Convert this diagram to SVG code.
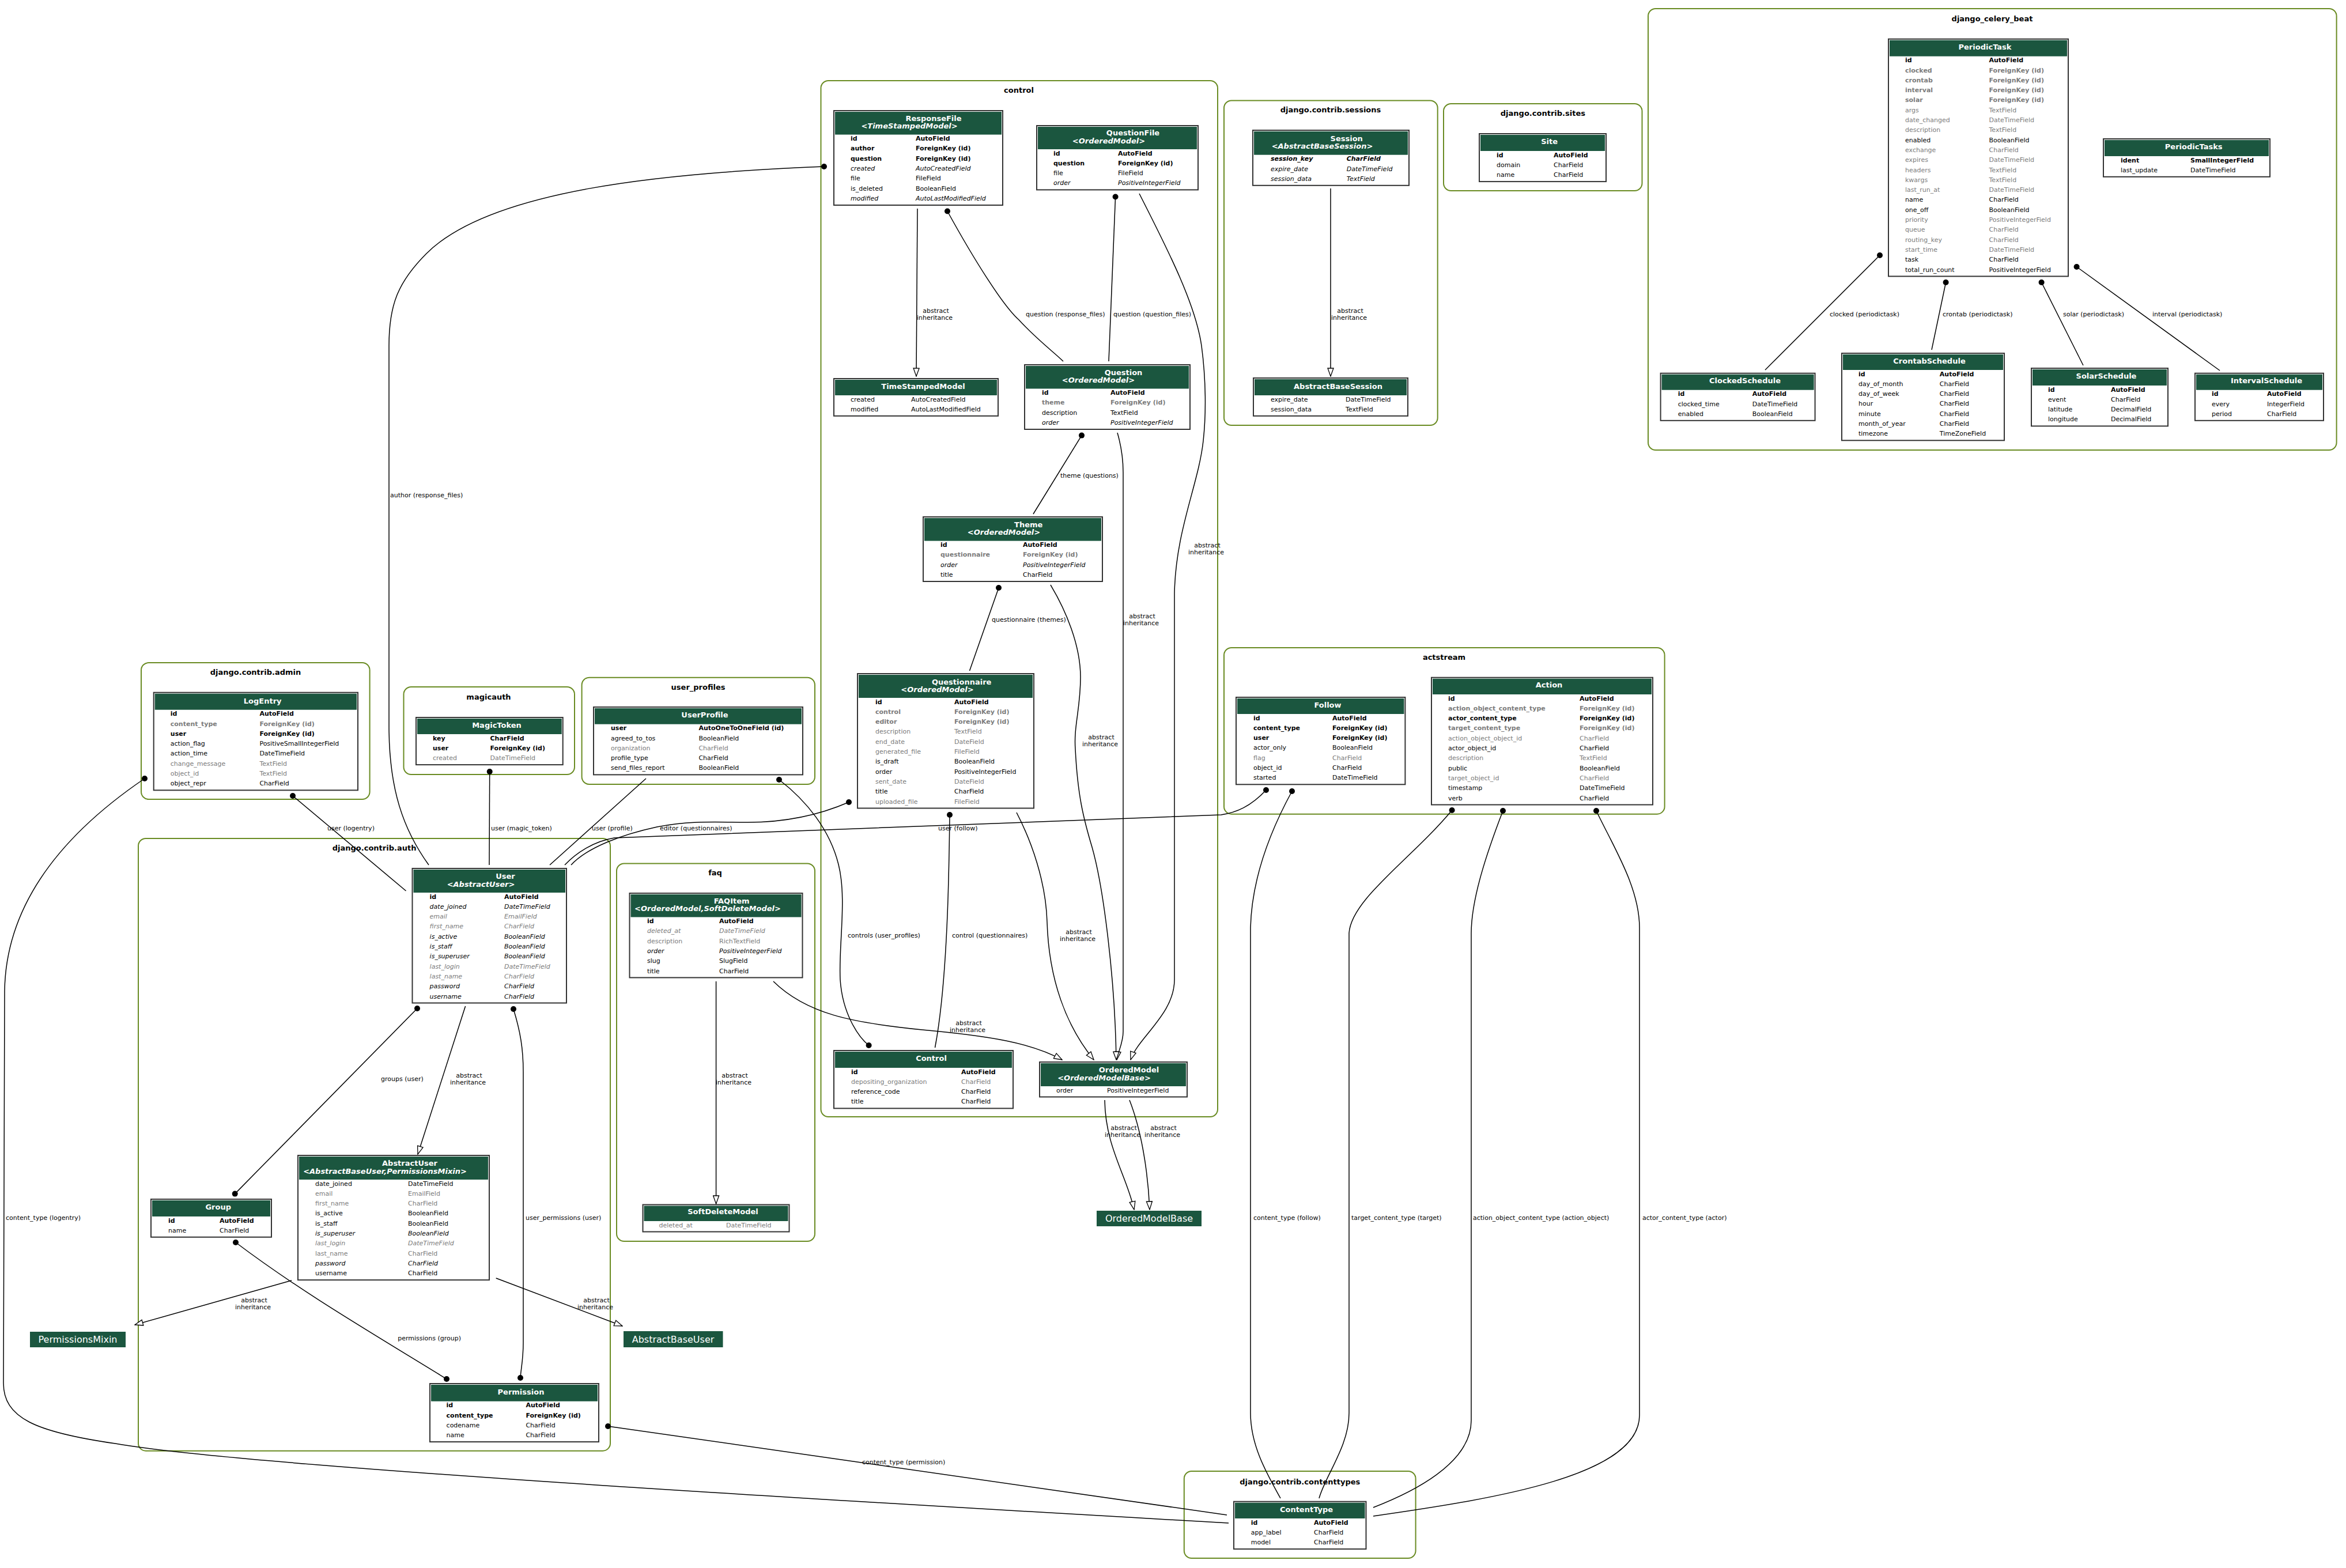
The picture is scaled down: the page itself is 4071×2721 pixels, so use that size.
<svg xmlns="http://www.w3.org/2000/svg" width="4071" height="2721" viewBox="0 0 4071 2721">
<style>
text { font-family: "DejaVu Sans", "Liberation Sans", sans-serif; }
.box { fill: #fff; stroke: #333; stroke-width: 2; }
.hd { fill: #1b563f; }
.tt { font-size: 13px; font-weight: bold; fill: #fff; text-anchor: middle; }
.i { font-style: italic; }
.b { font-weight: bold; }
.g { fill: #7b7b7b; }
.f { font-size: 11px; fill: #000; }
.f.g { fill: #7b7b7b; }
.cl { fill: none; stroke: #698b22; stroke-width: 2; }
.ct { font-size: 13px; font-weight: bold; fill: #000; text-anchor: middle; }
.e { fill: none; stroke: #000; stroke-width: 1.5; }
.inh { marker-end: url(#tri); }
.fk { marker-start: url(#dot); }
.m2m { marker-start: url(#dot); marker-end: url(#dot); }
.el { font-size: 11px; fill: #000; }
.ab { font-size: 11px; fill: #000; text-anchor: middle; }
.pb { fill: #1b563f; }
.pt { font-size: 16px; fill: #fff; text-anchor: middle; }
</style>
<defs>
<marker id="dot" markerUnits="userSpaceOnUse" viewBox="0 0 12 12" markerWidth="12" markerHeight="12" refX="6" refY="6">
<circle cx="6" cy="6" r="5" fill="#000"/>
</marker>
<marker id="tri" markerUnits="userSpaceOnUse" viewBox="0 0 16 12" markerWidth="16" markerHeight="12" refX="15" refY="6" orient="auto">
<path d="M1,1 L15,6 L1,11 z" fill="#fff" stroke="#000" stroke-width="1.3"/>
</marker>
</defs>
<rect width="4071" height="2721" fill="#fff"/>

<!-- application clusters -->
<g id="clusters">
<rect class="cl" x="1424.5" y="140" width="688.5" height="1798" rx="13"/>
<text class="ct" x="1768" y="161">control</text>
<rect class="cl" x="2124" y="174.5" width="370.7" height="563.5" rx="13"/>
<text class="ct" x="2309" y="194.5">django.contrib.sessions</text>
<rect class="cl" x="2505" y="180" width="344.5" height="151" rx="13"/>
<text class="ct" x="2677.4" y="200.5">django.contrib.sites</text>
<rect class="cl" x="2860" y="15" width="1194.6" height="766" rx="13"/>
<text class="ct" x="3457" y="37.2">django_celery_beat</text>
<rect class="cl" x="2124" y="1124" width="764.6" height="288.7" rx="13"/>
<text class="ct" x="2506" y="1145.2">actstream</text>
<rect class="cl" x="245" y="1150" width="396.6" height="237" rx="13"/>
<text class="ct" x="443.5" y="1171.2">django.contrib.admin</text>
<rect class="cl" x="700.5" y="1192" width="296.5" height="152" rx="13"/>
<text class="ct" x="848" y="1213.5">magicauth</text>
<rect class="cl" x="1009.6" y="1175.7" width="404.4" height="185.3" rx="13"/>
<text class="ct" x="1211.6" y="1197.2">user_profiles</text>
<rect class="cl" x="240" y="1455" width="819" height="1062.7" rx="13"/>
<text class="ct" x="649.6" y="1476.1">django.contrib.auth</text>
<rect class="cl" x="1070" y="1498.5" width="344" height="655.5" rx="13"/>
<text class="ct" x="1241" y="1519.2">faq</text>
<rect class="cl" x="2054.8" y="2553" width="401.8" height="151" rx="13"/>
<text class="ct" x="2255.7" y="2575.5">django.contrib.contenttypes</text>
</g>

<!-- control -->
<g id="ResponseFile">
<rect class="box" x="1447" y="192" width="293" height="164"/>
<rect class="hd" x="1449" y="194" width="289" height="39.6"/>
<text class="tt"><tspan x="1620" y="209.5">ResponseFile</tspan><tspan class="i" x="1578" y="222.5">&lt;TimeStampedModel&gt;</tspan></text>
<text class="f b" y="244.1"><tspan x="1476">id</tspan><tspan x="1589">AutoField</tspan></text>
<text class="f b" y="261.4"><tspan x="1476">author</tspan><tspan x="1589">ForeignKey (id)</tspan></text>
<text class="f b" y="278.7"><tspan x="1476">question</tspan><tspan x="1589">ForeignKey (id)</tspan></text>
<text class="f i" y="296"><tspan x="1476">created</tspan><tspan x="1589">AutoCreatedField</tspan></text>
<text class="f" y="313.3"><tspan x="1476">file</tspan><tspan x="1589">FileField</tspan></text>
<text class="f" y="330.6"><tspan x="1476">is_deleted</tspan><tspan x="1589">BooleanField</tspan></text>
<text class="f i" y="347.9"><tspan x="1476">modified</tspan><tspan x="1589">AutoLastModifiedField</tspan></text>
</g>
<g id="QuestionFile">
<rect class="box" x="1799" y="218" width="280" height="111.4"/>
<rect class="hd" x="1801" y="220" width="276" height="39"/>
<text class="tt"><tspan x="1966" y="234.9">QuestionFile</tspan><tspan class="i" x="1924" y="248.5">&lt;OrderedModel&gt;</tspan></text>
<text class="f b" y="269.5"><tspan x="1828">id</tspan><tspan x="1940">AutoField</tspan></text>
<text class="f b" y="286.8"><tspan x="1828">question</tspan><tspan x="1940">ForeignKey (id)</tspan></text>
<text class="f" y="304.1"><tspan x="1828">file</tspan><tspan x="1940">FileField</tspan></text>
<text class="f i" y="321.4"><tspan x="1828">order</tspan><tspan x="1940">PositiveIntegerField</tspan></text>
</g>
<g id="TimeStampedModel">
<rect class="box" x="1447" y="657" width="285" height="64.8"/>
<rect class="hd" x="1449" y="659" width="281" height="27"/>
<text class="tt" x="1602" y="675">TimeStampedModel</text>
<text class="f" y="696.5"><tspan x="1476">created</tspan><tspan x="1581">AutoCreatedField</tspan></text>
<text class="f" y="713.8"><tspan x="1476">modified</tspan><tspan x="1581">AutoLastModifiedField</tspan></text>
</g>
<g id="Question">
<rect class="box" x="1778" y="633" width="287" height="112"/>
<rect class="hd" x="1780" y="635" width="283" height="39.5"/>
<text class="tt"><tspan x="1949.5" y="650.5">Question</tspan><tspan class="i" x="1906" y="663.5">&lt;OrderedModel&gt;</tspan></text>
<text class="f b" y="685"><tspan x="1808">id</tspan><tspan x="1927">AutoField</tspan></text>
<text class="f b g" y="702.3"><tspan x="1808">theme</tspan><tspan x="1927">ForeignKey (id)</tspan></text>
<text class="f" y="719.6"><tspan x="1808">description</tspan><tspan x="1927">TextField</tspan></text>
<text class="f i" y="736.9"><tspan x="1808">order</tspan><tspan x="1927">PositiveIntegerField</tspan></text>
</g>
<g id="Theme">
<rect class="box" x="1602" y="897" width="311" height="112"/>
<rect class="hd" x="1604" y="899" width="307" height="39.6"/>
<text class="tt"><tspan x="1784.7" y="914.9">Theme</tspan><tspan class="i" x="1742" y="927.9">&lt;OrderedModel&gt;</tspan></text>
<text class="f b" y="949.1"><tspan x="1632">id</tspan><tspan x="1775">AutoField</tspan></text>
<text class="f b g" y="966.4"><tspan x="1632">questionnaire</tspan><tspan x="1775">ForeignKey (id)</tspan></text>
<text class="f i" y="983.7"><tspan x="1632">order</tspan><tspan x="1775">PositiveIntegerField</tspan></text>
<text class="f" y="1001"><tspan x="1632">title</tspan><tspan x="1775">CharField</tspan></text>
</g>
<g id="Questionnaire">
<rect class="box" x="1488" y="1169" width="306" height="233.5"/>
<rect class="hd" x="1490" y="1171" width="302" height="40"/>
<text class="tt"><tspan x="1668.7" y="1187.5">Questionnaire</tspan><tspan class="i" x="1626.5" y="1200.5">&lt;OrderedModel&gt;</tspan></text>
<text class="f b" y="1221.5"><tspan x="1519">id</tspan><tspan x="1656">AutoField</tspan></text>
<text class="f b g" y="1238.8"><tspan x="1519">control</tspan><tspan x="1656">ForeignKey (id)</tspan></text>
<text class="f b g" y="1256.1"><tspan x="1519">editor</tspan><tspan x="1656">ForeignKey (id)</tspan></text>
<text class="f g" y="1273.4"><tspan x="1519">description</tspan><tspan x="1656">TextField</tspan></text>
<text class="f g" y="1290.7"><tspan x="1519">end_date</tspan><tspan x="1656">DateField</tspan></text>
<text class="f g" y="1308"><tspan x="1519">generated_file</tspan><tspan x="1656">FileField</tspan></text>
<text class="f" y="1325.3"><tspan x="1519">is_draft</tspan><tspan x="1656">BooleanField</tspan></text>
<text class="f" y="1342.6"><tspan x="1519">order</tspan><tspan x="1656">PositiveIntegerField</tspan></text>
<text class="f g" y="1359.9"><tspan x="1519">sent_date</tspan><tspan x="1656">DateField</tspan></text>
<text class="f" y="1377.2"><tspan x="1519">title</tspan><tspan x="1656">CharField</tspan></text>
<text class="f g" y="1394.5"><tspan x="1519">uploaded_file</tspan><tspan x="1656">FileField</tspan></text>
</g>
<g id="Control">
<rect class="box" x="1447" y="1823" width="311" height="100.4"/>
<rect class="hd" x="1449" y="1825" width="307" height="28"/>
<text class="tt" x="1616" y="1841.2">Control</text>
<text class="f b" y="1863.5"><tspan x="1477">id</tspan><tspan x="1668">AutoField</tspan></text>
<text class="f g" y="1880.8"><tspan x="1477">depositing_organization</tspan><tspan x="1668">CharField</tspan></text>
<text class="f" y="1898.1"><tspan x="1477">reference_code</tspan><tspan x="1668">CharField</tspan></text>
<text class="f" y="1915.4"><tspan x="1477">title</tspan><tspan x="1668">CharField</tspan></text>
</g>
<g id="OrderedModel">
<rect class="box" x="1804" y="1843" width="256" height="60.5"/>
<rect class="hd" x="1806" y="1845" width="252" height="40"/>
<text class="tt"><tspan x="1959" y="1861.1">OrderedModel</tspan><tspan class="i" x="1916" y="1874.5">&lt;OrderedModelBase&gt;</tspan></text>
<text class="f" y="1895.5"><tspan x="1833">order</tspan><tspan x="1921">PositiveIntegerField</tspan></text>
</g>
<g id="OrderedModelBase">
<rect class="pb" x="1903" y="2101" width="182" height="27"/>
<text class="pt" x="1994" y="2120">OrderedModelBase</text>
</g>

<!-- faq -->
<g id="FAQItem">
<rect class="box" x="1092.5" y="1550" width="300" height="146.5"/>
<rect class="hd" x="1094.5" y="1552" width="296" height="39.5"/>
<text class="tt"><tspan x="1269.6" y="1568.1">FAQItem</tspan><tspan class="i" x="1228" y="1581.2">&lt;OrderedModel,SoftDeleteModel&gt;</tspan></text>
<text class="f b" y="1602"><tspan x="1123">id</tspan><tspan x="1248">AutoField</tspan></text>
<text class="f g i" y="1619.3"><tspan x="1123">deleted_at</tspan><tspan x="1248">DateTimeField</tspan></text>
<text class="f g" y="1636.6"><tspan x="1123">description</tspan><tspan x="1248">RichTextField</tspan></text>
<text class="f i" y="1653.9"><tspan x="1123">order</tspan><tspan x="1248">PositiveIntegerField</tspan></text>
<text class="f" y="1671.2"><tspan x="1123">slug</tspan><tspan x="1248">SlugField</tspan></text>
<text class="f" y="1688.5"><tspan x="1123">title</tspan><tspan x="1248">CharField</tspan></text>
</g>
<g id="SoftDeleteModel">
<rect class="box" x="1115.5" y="2090.5" width="254" height="47"/>
<rect class="hd" x="1117.5" y="2092.5" width="250" height="26.5"/>
<text class="tt" x="1254.5" y="2107">SoftDeleteModel</text>
<text class="f g" y="2129.5"><tspan x="1143.5">deleted_at</tspan><tspan x="1260">DateTimeField</tspan></text>
</g>

<!-- django.contrib.auth -->
<g id="User">
<rect class="box" x="715.5" y="1507" width="267.5" height="233.5"/>
<rect class="hd" x="717.5" y="1509" width="263.5" height="40"/>
<text class="tt"><tspan x="877" y="1525.1">User</tspan><tspan class="i" x="834.5" y="1538.5">&lt;AbstractUser&gt;</tspan></text>
<text class="f b" y="1559.5"><tspan x="745.6">id</tspan><tspan x="875">AutoField</tspan></text>
<text class="f i" y="1576.8"><tspan x="745.6">date_joined</tspan><tspan x="875">DateTimeField</tspan></text>
<text class="f g i" y="1594.1"><tspan x="745.6">email</tspan><tspan x="875">EmailField</tspan></text>
<text class="f g i" y="1611.4"><tspan x="745.6">first_name</tspan><tspan x="875">CharField</tspan></text>
<text class="f i" y="1628.7"><tspan x="745.6">is_active</tspan><tspan x="875">BooleanField</tspan></text>
<text class="f i" y="1646"><tspan x="745.6">is_staff</tspan><tspan x="875">BooleanField</tspan></text>
<text class="f i" y="1663.3"><tspan x="745.6">is_superuser</tspan><tspan x="875">BooleanField</tspan></text>
<text class="f g i" y="1680.6"><tspan x="745.6">last_login</tspan><tspan x="875">DateTimeField</tspan></text>
<text class="f g i" y="1697.9"><tspan x="745.6">last_name</tspan><tspan x="875">CharField</tspan></text>
<text class="f i" y="1715.2"><tspan x="745.6">password</tspan><tspan x="875">CharField</tspan></text>
<text class="f i" y="1732.5"><tspan x="745.6">username</tspan><tspan x="875">CharField</tspan></text>
</g>
<g id="AbstractUser">
<rect class="box" x="517" y="2005" width="332" height="216.2"/>
<rect class="hd" x="519" y="2007" width="328" height="40"/>
<text class="tt"><tspan x="711" y="2023.1">AbstractUser</tspan><tspan class="i" x="668" y="2036.5">&lt;AbstractBaseUser,PermissionsMixin&gt;</tspan></text>
<text class="f" y="2057.5"><tspan x="547">date_joined</tspan><tspan x="708">DateTimeField</tspan></text>
<text class="f g" y="2074.8"><tspan x="547">email</tspan><tspan x="708">EmailField</tspan></text>
<text class="f g" y="2092.1"><tspan x="547">first_name</tspan><tspan x="708">CharField</tspan></text>
<text class="f" y="2109.4"><tspan x="547">is_active</tspan><tspan x="708">BooleanField</tspan></text>
<text class="f" y="2126.7"><tspan x="547">is_staff</tspan><tspan x="708">BooleanField</tspan></text>
<text class="f i" y="2144"><tspan x="547">is_superuser</tspan><tspan x="708">BooleanField</tspan></text>
<text class="f g i" y="2161.3"><tspan x="547">last_login</tspan><tspan x="708">DateTimeField</tspan></text>
<text class="f g" y="2178.6"><tspan x="547">last_name</tspan><tspan x="708">CharField</tspan></text>
<text class="f i" y="2195.9"><tspan x="547">password</tspan><tspan x="708">CharField</tspan></text>
<text class="f" y="2213.2"><tspan x="547">username</tspan><tspan x="708">CharField</tspan></text>
</g>
<g id="Group">
<rect class="box" x="262" y="2081" width="209" height="65.8"/>
<rect class="hd" x="264" y="2083" width="205" height="28"/>
<text class="tt" x="378.7" y="2099.1">Group</text>
<text class="f b" y="2121.5"><tspan x="292">id</tspan><tspan x="381">AutoField</tspan></text>
<text class="f" y="2138.8"><tspan x="292">name</tspan><tspan x="381">CharField</tspan></text>
</g>
<g id="Permission">
<rect class="box" x="746" y="2401" width="293" height="101.1"/>
<rect class="hd" x="748" y="2403" width="289" height="28.7"/>
<text class="tt" x="904" y="2420.2">Permission</text>
<text class="f b" y="2442.2"><tspan x="774.6">id</tspan><tspan x="912.4">AutoField</tspan></text>
<text class="f b" y="2459.5"><tspan x="774.6">content_type</tspan><tspan x="912.4">ForeignKey (id)</tspan></text>
<text class="f" y="2476.8"><tspan x="774.6">codename</tspan><tspan x="912.4">CharField</tspan></text>
<text class="f" y="2494.1"><tspan x="774.6">name</tspan><tspan x="912.4">CharField</tspan></text>
</g>
<g id="PermissionsMixin">
<rect class="pb" x="52" y="2311" width="166" height="27"/>
<text class="pt" x="135" y="2330">PermissionsMixin</text>
</g>
<g id="AbstractBaseUser">
<rect class="pb" x="1082" y="2310" width="172.5" height="28"/>
<text class="pt" x="1168" y="2329.5">AbstractBaseUser</text>
</g>

<!-- admin, magicauth, user_profiles -->
<g id="LogEntry">
<rect class="box" x="266.7" y="1201.7" width="354.3" height="169.6"/>
<rect class="hd" x="268.7" y="1203.7" width="350.3" height="28"/>
<text class="tt" x="455.7" y="1220.5">LogEntry</text>
<text class="f b" y="1242.2"><tspan x="295.8">id</tspan><tspan x="450.4">AutoField</tspan></text>
<text class="f b g" y="1259.5"><tspan x="295.8">content_type</tspan><tspan x="450.4">ForeignKey (id)</tspan></text>
<text class="f b" y="1276.8"><tspan x="295.8">user</tspan><tspan x="450.4">ForeignKey (id)</tspan></text>
<text class="f" y="1294.1"><tspan x="295.8">action_flag</tspan><tspan x="450.4">PositiveSmallIntegerField</tspan></text>
<text class="f" y="1311.4"><tspan x="295.8">action_time</tspan><tspan x="450.4">DateTimeField</tspan></text>
<text class="f g" y="1328.7"><tspan x="295.8">change_message</tspan><tspan x="450.4">TextField</tspan></text>
<text class="f g" y="1346"><tspan x="295.8">object_id</tspan><tspan x="450.4">TextField</tspan></text>
<text class="f" y="1363.3"><tspan x="295.8">object_repr</tspan><tspan x="450.4">CharField</tspan></text>
</g>
<g id="MagicToken">
<rect class="box" x="722" y="1245" width="254.7" height="82.1"/>
<rect class="hd" x="724" y="1247" width="250.7" height="27"/>
<text class="tt" x="862" y="1263.2">MagicToken</text>
<text class="f b" y="1284.5"><tspan x="751">key</tspan><tspan x="850.5">CharField</tspan></text>
<text class="f b" y="1301.8"><tspan x="751">user</tspan><tspan x="850.5">ForeignKey (id)</tspan></text>
<text class="f g" y="1319.1"><tspan x="751">created</tspan><tspan x="850.5">DateTimeField</tspan></text>
</g>
<g id="UserProfile">
<rect class="box" x="1030" y="1227" width="363" height="117.4"/>
<rect class="hd" x="1032" y="1229" width="359" height="27.7"/>
<text class="tt" x="1223" y="1244.5">UserProfile</text>
<text class="f b" y="1267.2"><tspan x="1060">user</tspan><tspan x="1212.4">AutoOneToOneField (id)</tspan></text>
<text class="f" y="1284.5"><tspan x="1060">agreed_to_tos</tspan><tspan x="1212.4">BooleanField</tspan></text>
<text class="f g" y="1301.8"><tspan x="1060">organization</tspan><tspan x="1212.4">CharField</tspan></text>
<text class="f" y="1319.1"><tspan x="1060">profile_type</tspan><tspan x="1212.4">CharField</tspan></text>
<text class="f" y="1336.4"><tspan x="1060">send_files_report</tspan><tspan x="1212.4">BooleanField</tspan></text>
</g>

<!-- sessions, sites -->
<g id="Session">
<rect class="box" x="2174" y="226" width="271" height="95.8"/>
<rect class="hd" x="2176" y="228" width="267" height="40.7"/>
<text class="tt"><tspan x="2336.7" y="244.5">Session</tspan><tspan class="i" x="2294.5" y="257.5">&lt;AbstractBaseSession&gt;</tspan></text>
<text class="f b i" y="279.2"><tspan x="2205">session_key</tspan><tspan x="2336.7">CharField</tspan></text>
<text class="f i" y="296.5"><tspan x="2205">expire_date</tspan><tspan x="2336.7">DateTimeField</tspan></text>
<text class="f i" y="313.8"><tspan x="2205">session_data</tspan><tspan x="2336.7">TextField</tspan></text>
</g>
<g id="AbstractBaseSession">
<rect class="box" x="2175" y="656" width="268" height="65.8"/>
<rect class="hd" x="2177" y="658" width="264" height="28"/>
<text class="tt" x="2322" y="675">AbstractBaseSession</text>
<text class="f" y="696.5"><tspan x="2205">expire_date</tspan><tspan x="2335">DateTimeField</tspan></text>
<text class="f" y="713.8"><tspan x="2205">session_data</tspan><tspan x="2335">TextField</tspan></text>
</g>
<g id="Site">
<rect class="box" x="2567" y="232" width="220" height="83.1"/>
<rect class="hd" x="2569" y="234" width="216" height="28"/>
<text class="tt" x="2688.6" y="249.5">Site</text>
<text class="f b" y="272.5"><tspan x="2597">id</tspan><tspan x="2696">AutoField</tspan></text>
<text class="f" y="289.8"><tspan x="2597">domain</tspan><tspan x="2696">CharField</tspan></text>
<text class="f" y="307.1"><tspan x="2597">name</tspan><tspan x="2696">CharField</tspan></text>
</g>

<!-- django_celery_beat -->
<g id="PeriodicTask">
<rect class="box" x="3277" y="67.7" width="312" height="411.8"/>
<rect class="hd" x="3279" y="69.7" width="308" height="28"/>
<text class="tt" x="3444.5" y="86.2">PeriodicTask</text>
<text class="f b" y="108.2"><tspan x="3306">id</tspan><tspan x="3451.5">AutoField</tspan></text>
<text class="f b g" y="125.5"><tspan x="3306">clocked</tspan><tspan x="3451.5">ForeignKey (id)</tspan></text>
<text class="f b g" y="142.8"><tspan x="3306">crontab</tspan><tspan x="3451.5">ForeignKey (id)</tspan></text>
<text class="f b g" y="160.1"><tspan x="3306">interval</tspan><tspan x="3451.5">ForeignKey (id)</tspan></text>
<text class="f b g" y="177.4"><tspan x="3306">solar</tspan><tspan x="3451.5">ForeignKey (id)</tspan></text>
<text class="f g" y="194.7"><tspan x="3306">args</tspan><tspan x="3451.5">TextField</tspan></text>
<text class="f g" y="212"><tspan x="3306">date_changed</tspan><tspan x="3451.5">DateTimeField</tspan></text>
<text class="f g" y="229.3"><tspan x="3306">description</tspan><tspan x="3451.5">TextField</tspan></text>
<text class="f" y="246.6"><tspan x="3306">enabled</tspan><tspan x="3451.5">BooleanField</tspan></text>
<text class="f g" y="263.9"><tspan x="3306">exchange</tspan><tspan x="3451.5">CharField</tspan></text>
<text class="f g" y="281.2"><tspan x="3306">expires</tspan><tspan x="3451.5">DateTimeField</tspan></text>
<text class="f g" y="298.5"><tspan x="3306">headers</tspan><tspan x="3451.5">TextField</tspan></text>
<text class="f g" y="315.8"><tspan x="3306">kwargs</tspan><tspan x="3451.5">TextField</tspan></text>
<text class="f g" y="333.1"><tspan x="3306">last_run_at</tspan><tspan x="3451.5">DateTimeField</tspan></text>
<text class="f" y="350.4"><tspan x="3306">name</tspan><tspan x="3451.5">CharField</tspan></text>
<text class="f" y="367.7"><tspan x="3306">one_off</tspan><tspan x="3451.5">BooleanField</tspan></text>
<text class="f g" y="385"><tspan x="3306">priority</tspan><tspan x="3451.5">PositiveIntegerField</tspan></text>
<text class="f g" y="402.3"><tspan x="3306">queue</tspan><tspan x="3451.5">CharField</tspan></text>
<text class="f g" y="419.6"><tspan x="3306">routing_key</tspan><tspan x="3451.5">CharField</tspan></text>
<text class="f g" y="436.9"><tspan x="3306">start_time</tspan><tspan x="3451.5">DateTimeField</tspan></text>
<text class="f" y="454.2"><tspan x="3306">task</tspan><tspan x="3451.5">CharField</tspan></text>
<text class="f" y="471.5"><tspan x="3306">total_run_count</tspan><tspan x="3451.5">PositiveIntegerField</tspan></text>
</g>
<g id="PeriodicTasks">
<rect class="box" x="3650" y="241" width="289" height="65.8"/>
<rect class="hd" x="3652" y="243" width="285" height="28"/>
<text class="tt" x="3806.7" y="259.2">PeriodicTasks</text>
<text class="f b" y="281.5"><tspan x="3680">ident</tspan><tspan x="3801">SmallIntegerField</tspan></text>
<text class="f" y="298.8"><tspan x="3680">last_update</tspan><tspan x="3801">DateTimeField</tspan></text>
</g>
<g id="ClockedSchedule">
<rect class="box" x="2881.6" y="647.7" width="268" height="82.1"/>
<rect class="hd" x="2883.6" y="649.7" width="264" height="27"/>
<text class="tt" x="3028" y="664.5">ClockedSchedule</text>
<text class="f b" y="687.2"><tspan x="2911.7">id</tspan><tspan x="3040.7">AutoField</tspan></text>
<text class="f" y="704.5"><tspan x="2911.7">clocked_time</tspan><tspan x="3040.7">DateTimeField</tspan></text>
<text class="f" y="721.8"><tspan x="2911.7">enabled</tspan><tspan x="3040.7">BooleanField</tspan></text>
</g>
<g id="CrontabSchedule">
<rect class="box" x="3196" y="613" width="282" height="151.3"/>
<rect class="hd" x="3198" y="615" width="278" height="27"/>
<text class="tt" x="3348" y="630.5">CrontabSchedule</text>
<text class="f b" y="652.5"><tspan x="3225">id</tspan><tspan x="3365.8">AutoField</tspan></text>
<text class="f" y="669.8"><tspan x="3225">day_of_month</tspan><tspan x="3365.8">CharField</tspan></text>
<text class="f" y="687.1"><tspan x="3225">day_of_week</tspan><tspan x="3365.8">CharField</tspan></text>
<text class="f" y="704.4"><tspan x="3225">hour</tspan><tspan x="3365.8">CharField</tspan></text>
<text class="f" y="721.7"><tspan x="3225">minute</tspan><tspan x="3365.8">CharField</tspan></text>
<text class="f" y="739"><tspan x="3225">month_of_year</tspan><tspan x="3365.8">CharField</tspan></text>
<text class="f" y="756.3"><tspan x="3225">timezone</tspan><tspan x="3365.8">TimeZoneField</tspan></text>
</g>
<g id="SolarSchedule">
<rect class="box" x="3525" y="639" width="237" height="100.4"/>
<rect class="hd" x="3527" y="641" width="233" height="28"/>
<text class="tt" x="3655" y="657.2">SolarSchedule</text>
<text class="f b" y="679.5"><tspan x="3554">id</tspan><tspan x="3663">AutoField</tspan></text>
<text class="f" y="696.8"><tspan x="3554">event</tspan><tspan x="3663">CharField</tspan></text>
<text class="f" y="714.1"><tspan x="3554">latitude</tspan><tspan x="3663">DecimalField</tspan></text>
<text class="f" y="731.4"><tspan x="3554">longitude</tspan><tspan x="3663">DecimalField</tspan></text>
</g>
<g id="IntervalSchedule">
<rect class="box" x="3809" y="647.7" width="223" height="82.1"/>
<rect class="hd" x="3811" y="649.7" width="219" height="27"/>
<text class="tt" x="3933" y="664.5">IntervalSchedule</text>
<text class="f b" y="687.2"><tspan x="3838">id</tspan><tspan x="3934">AutoField</tspan></text>
<text class="f" y="704.5"><tspan x="3838">every</tspan><tspan x="3934">IntegerField</tspan></text>
<text class="f" y="721.8"><tspan x="3838">period</tspan><tspan x="3934">CharField</tspan></text>
</g>

<!-- actstream -->
<g id="Follow">
<rect class="box" x="2145" y="1210" width="293.4" height="151.3"/>
<rect class="hd" x="2147" y="1212" width="289.4" height="27"/>
<text class="tt" x="2304" y="1227.5">Follow</text>
<text class="f b" y="1249.5"><tspan x="2175">id</tspan><tspan x="2312">AutoField</tspan></text>
<text class="f b" y="1266.8"><tspan x="2175">content_type</tspan><tspan x="2312">ForeignKey (id)</tspan></text>
<text class="f b" y="1284.1"><tspan x="2175">user</tspan><tspan x="2312">ForeignKey (id)</tspan></text>
<text class="f" y="1301.4"><tspan x="2175">actor_only</tspan><tspan x="2312">BooleanField</tspan></text>
<text class="f g" y="1318.7"><tspan x="2175">flag</tspan><tspan x="2312">CharField</tspan></text>
<text class="f" y="1336"><tspan x="2175">object_id</tspan><tspan x="2312">CharField</tspan></text>
<text class="f" y="1353.3"><tspan x="2175">started</tspan><tspan x="2312">DateTimeField</tspan></text>
</g>
<g id="Action">
<rect class="box" x="2484" y="1175.7" width="384" height="220.8"/>
<rect class="hd" x="2486" y="1177.7" width="380" height="27.3"/>
<text class="tt" x="2688" y="1192.5">Action</text>
<text class="f b" y="1215.5"><tspan x="2513">id</tspan><tspan x="2741">AutoField</tspan></text>
<text class="f b g" y="1232.8"><tspan x="2513">action_object_content_type</tspan><tspan x="2741">ForeignKey (id)</tspan></text>
<text class="f b" y="1250.1"><tspan x="2513">actor_content_type</tspan><tspan x="2741">ForeignKey (id)</tspan></text>
<text class="f b g" y="1267.4"><tspan x="2513">target_content_type</tspan><tspan x="2741">ForeignKey (id)</tspan></text>
<text class="f g" y="1284.7"><tspan x="2513">action_object_object_id</tspan><tspan x="2741">CharField</tspan></text>
<text class="f" y="1302"><tspan x="2513">actor_object_id</tspan><tspan x="2741">CharField</tspan></text>
<text class="f g" y="1319.3"><tspan x="2513">description</tspan><tspan x="2741">TextField</tspan></text>
<text class="f" y="1336.6"><tspan x="2513">public</tspan><tspan x="2741">BooleanField</tspan></text>
<text class="f g" y="1353.9"><tspan x="2513">target_object_id</tspan><tspan x="2741">CharField</tspan></text>
<text class="f" y="1371.2"><tspan x="2513">timestamp</tspan><tspan x="2741">DateTimeField</tspan></text>
<text class="f" y="1388.5"><tspan x="2513">verb</tspan><tspan x="2741">CharField</tspan></text>
</g>

<!-- contenttypes -->
<g id="ContentType">
<rect class="box" x="2141" y="2605.7" width="229.5" height="82.4"/>
<rect class="hd" x="2143" y="2607.7" width="225.5" height="27.3"/>
<text class="tt" x="2267" y="2623.5">ContentType</text>
<text class="f b" y="2645.5"><tspan x="2170.7">id</tspan><tspan x="2280">AutoField</tspan></text>
<text class="f" y="2662.8"><tspan x="2170.7">app_label</tspan><tspan x="2280">CharField</tspan></text>
<text class="f" y="2680.1"><tspan x="2170.7">model</tspan><tspan x="2280">CharField</tspan></text>
</g>

<!-- connectors -->
<g id="edges">
<!-- abstract inheritance -->
<path class="e inh" d="M1592,362 L1590,653"/>
<path class="e inh" d="M2309,327 L2309,653"/>
<path class="e inh" d="M1977,336 C2030,440 2075,530 2085,600 C2093,660 2093,720 2088,765 C2080,840 2040,920 2038,1030 L2038,1700 C2038,1760 1975,1800 1962,1839"/>
<path class="e inh" d="M1939,751 C1946,775 1949,795 1949,820 L1949,1790 C1949,1810 1940,1825 1938,1839"/>
<path class="e inh" d="M1823,1015 C1850,1060 1875,1120 1875,1175 C1875,1230 1863,1260 1866,1300 C1870,1380 1880,1420 1895,1470 C1915,1540 1935,1700 1937,1839"/>
<path class="e inh" d="M1764,1410 C1790,1460 1815,1530 1817,1600 C1820,1700 1850,1780 1898,1839"/>
<path class="e inh" d="M1342,1703 C1400,1760 1480,1775 1600,1787 C1720,1798 1790,1810 1843,1839"/>
<path class="e inh" d="M1242.6,1703 L1242.6,2089"/>
<path class="e inh" d="M1917,1909 C1918,1990 1955,2040 1968,2099"/>
<path class="e inh" d="M1960,1909 C1980,1960 1992,2030 1995,2099"/>
<path class="e inh" d="M807.6,1746 L725,2003"/>
<path class="e inh" d="M860.7,2218 L1080,2301"/>
<path class="e inh" d="M506,2222 L234,2299"/>
<!-- relations -->
<path class="e fk" d="M1430,289 C1150,300 850,330 740,440 C690,490 675,530 675,600 L675,1260 C675,1370 700,1440 744,1501"/>
<path class="e fk" d="M1935.6,341.5 L1924,627"/>
<path class="e fk" d="M1644,366.5 C1690,450 1740,530 1768,555 C1800,590 1830,612 1845,627"/>
<path class="e fk" d="M1877,755.6 L1793,892"/>
<path class="e fk" d="M1733,1020 L1682.5,1164"/>
<path class="e fk" d="M1648,1414 C1647,1500 1645,1700 1622.5,1818"/>
<path class="e fk" d="M1473,1392 C1420,1415 1360,1428 1290,1427 C1230,1426 1190,1425 1140,1435 C1080,1448 1020,1470 991,1501"/>
<path class="e fk" d="M2197,1371 C2170,1400 2145,1410 2119,1414 L1066,1454 C1030,1460 1000,1480 980,1501"/>
<path class="e" d="M1121,1351 L954,1501"/>
<path class="e fk" d="M849.7,1339 L849,1501"/>
<path class="e fk" d="M508,1381 L704.5,1546"/>
<path class="e fk" d="M251,1351 C120,1440 10,1560 8,1720 L6,2400 C6,2460 60,2485 200,2505 C400,2540 1200,2590 2132,2643"/>
<path class="e m2m" d="M724,1750 L407.7,2071.6"/>
<path class="e m2m" d="M891,1751 C903,1790 908,1820 908,1860 L908,2330 C908,2360 904,2375 903,2391"/>
<path class="e m2m" d="M409,2156 C520,2240 640,2310 775,2393"/>
<path class="e fk" d="M1055,2475 L2129,2629"/>
<path class="e fk" d="M2242,1373 C2200,1450 2172,1530 2170,1610 L2170,2452 C2170,2510 2200,2560 2222,2600"/>
<path class="e fk" d="M2519.6,1406 C2450,1490 2345,1560 2341,1619 L2341,2452 C2341,2510 2300,2560 2289,2600"/>
<path class="e fk" d="M2608,1407 C2580,1480 2553,1560 2553,1620 L2553,2465 C2553,2540 2450,2590 2383,2616"/>
<path class="e fk" d="M2770,1407 C2800,1470 2845,1540 2845,1610 L2845,2456 C2845,2560 2600,2600 2383,2631"/>
<path class="e fk" d="M3262,443 L3063,642"/>
<path class="e fk" d="M3376.6,490 L3352,607"/>
<path class="e fk" d="M3542.6,490 L3615,634"/>
<path class="e fk" d="M3603.6,463 L3852,643"/>
<path class="e m2m" d="M1352,1353 C1400,1390 1440,1440 1455,1500 C1470,1560 1455,1640 1458,1700 C1462,1760 1490,1800 1507.6,1814"/>
</g>

<!-- connector labels -->
<g id="edge-labels">
<text class="ab"><tspan x="1624" y="543">abstract</tspan><tspan x="1622" y="555">inheritance</tspan></text>
<text class="ab"><tspan x="2343" y="543">abstract</tspan><tspan x="2341" y="555">inheritance</tspan></text>
<text class="ab"><tspan x="2095" y="950">abstract</tspan><tspan x="2093" y="962">inheritance</tspan></text>
<text class="ab"><tspan x="1982" y="1073">abstract</tspan><tspan x="1980" y="1085">inheritance</tspan></text>
<text class="ab"><tspan x="1911" y="1283">abstract</tspan><tspan x="1909" y="1295">inheritance</tspan></text>
<text class="ab"><tspan x="1872" y="1621">abstract</tspan><tspan x="1870" y="1633">inheritance</tspan></text>
<text class="ab"><tspan x="1681" y="1779">abstract</tspan><tspan x="1679" y="1791">inheritance</tspan></text>
<text class="ab"><tspan x="1275" y="1870">abstract</tspan><tspan x="1273" y="1882">inheritance</tspan></text>
<text class="ab"><tspan x="1950" y="1961">abstract</tspan><tspan x="1948" y="1973">inheritance</tspan></text>
<text class="ab"><tspan x="2019" y="1961">abstract</tspan><tspan x="2017" y="1973">inheritance</tspan></text>
<text class="ab"><tspan x="814" y="1870">abstract</tspan><tspan x="812" y="1882">inheritance</tspan></text>
<text class="ab"><tspan x="1035" y="2260">abstract</tspan><tspan x="1033" y="2272">inheritance</tspan></text>
<text class="ab"><tspan x="441" y="2260">abstract</tspan><tspan x="439" y="2272">inheritance</tspan></text>
<text class="el" x="677" y="863">author (response_files)</text>
<text class="el" x="1780" y="549">question (response_files)</text>
<text class="el" x="1932" y="549">question (question_files)</text>
<text class="el" x="1840" y="829">theme (questions)</text>
<text class="el" x="1721" y="1079">questionnaire (themes)</text>
<text class="el" x="1652" y="1627">control (questionnaires)</text>
<text class="el" x="1471" y="1627">controls (user_profiles)</text>
<text class="el" x="1145" y="1441">editor (questionnaires)</text>
<text class="el" x="1628" y="1441">user (follow)</text>
<text class="el" x="1027" y="1441">user (profile)</text>
<text class="el" x="852" y="1441">user (magic_token)</text>
<text class="el" x="568" y="1441">user (logentry)</text>
<text class="el" x="10" y="2117">content_type (logentry)</text>
<text class="el" x="661" y="1876">groups (user)</text>
<text class="el" x="912" y="2117">user_permissions (user)</text>
<text class="el" x="800" y="2326" text-anchor="end">permissions (group)</text>
<text class="el" x="1496" y="2541">content_type (permission)</text>
<text class="el" x="2175" y="2117">content_type (follow)</text>
<text class="el" x="2345" y="2117">target_content_type (target)</text>
<text class="el" x="2556" y="2117">action_object_content_type (action_object)</text>
<text class="el" x="2850" y="2117">actor_content_type (actor)</text>
<text class="el" x="3175" y="549">clocked (periodictask)</text>
<text class="el" x="3371" y="549">crontab (periodictask)</text>
<text class="el" x="3580" y="549">solar (periodictask)</text>
<text class="el" x="3735" y="549">interval (periodictask)</text>
</g>
</svg>
